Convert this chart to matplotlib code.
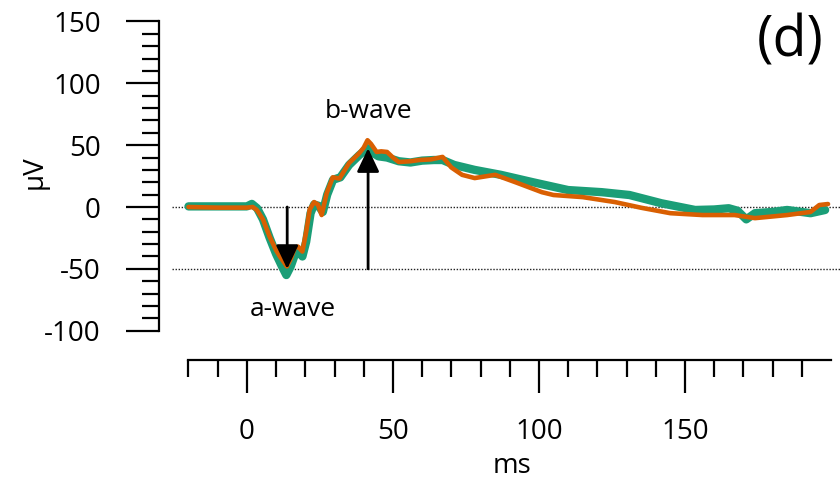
import numpy as np
import matplotlib
matplotlib.use('Agg')
import matplotlib.pyplot as plt
from matplotlib.ticker import FixedLocator

plt.rcParams['font.family'] = ['Open Sans', 'DejaVu Sans']
plt.rcParams['axes.unicode_minus'] = False

# orange trace (ms, uV)
t_orange = [-20, -10, 0, 2, 3.4, 5.5, 7.8, 10, 11.3, 13.7, 15, 16.4, 17.5, 19,
            20.3, 21.5, 23, 24.3, 25.6, 27.3, 29.4, 31.7, 33, 35, 38.5, 40, 41.3,
            42.5, 44.4, 46, 48, 50, 52, 56, 59, 63, 67, 70, 73.7, 78, 85, 92,
            101, 105, 115, 126, 135, 145, 156, 167, 174, 185, 193, 196, 199]
v_orange = [0.0, -0.5, -0.5, 0, -2.4, -10, -24, -35, -40, -48, -42, -33, -32, -36,
            -20, -2, 4, 2, -6.5, 11, 24, 23, 28, 35.6, 43.6, 48, 54,
            51, 44.5, 45, 44.5, 40, 36.4, 37, 38, 38.5, 40.5, 32, 26, 23.4, 26, 20,
            12, 9.7, 8, 4, -0.6, -5, -6.5, -6.5, -9, -6.5, -4, 1.6, 2.4]

# green trace (ms, uV)
t_green = [-20, -10, 0, 1.7, 3.5, 5.5, 7.8, 10, 12, 13.5, 15, 16.5, 18, 19,
           20.3, 21.8, 23, 24.5, 26, 27.5, 29.5, 32, 35, 38.5, 41.3, 43, 45,
           48, 52, 56, 60, 64, 67, 71, 78, 87, 98, 110, 121.5, 131, 142, 153.5,
           160, 165, 168, 171, 174, 180, 185, 193, 198]
v_green = [0.5, 0.5, 0.5, 2.5, -1, -10, -25, -38, -48, -55, -48, -38, -37, -40,
           -28, -5, 2, 1, -4, 10, 22, 24, 34, 42, 47.6, 44, 41,
           40, 37, 36, 37.5, 38, 38, 34, 30, 26, 20, 13.7, 12, 9.7, 3, -2.4,
           -2, -1, -3, -10, -5, -4, -2.4, -5, -2.4]

a_wave_t = 13.8
b_wave_t = 41.5
a_wave_amp = -50
b_wave_amp = 47.5

fig = plt.figure(figsize=(8.4, 4.86), dpi=100)
ax = fig.add_axes([159 / 840, 1 - 360 / 486, 1 - 159 / 840, 340 / 486])
ax.set_xlim(-30.1, 203.1)
ax.set_ylim(-123.7, 151.2)

ax.hlines([0, -50], -25.7, 203.1, colors='#222222', linestyles=(0, (1, 1.2)), lw=1.0, zorder=1)

ax.plot(t_green, v_green, color='#1b9e77', lw=6, solid_capstyle='round', zorder=2)
ax.plot(t_orange, v_orange, color='#d95f02', lw=3.3, solid_capstyle='round', zorder=3)

arrow_kw = dict(arrowstyle='-|>,head_length=0.8,head_width=0.38', color='black',
                lw=2, mutation_scale=18, shrinkA=0, shrinkB=0)
ax.annotate('', xy=(a_wave_t, a_wave_amp), xytext=(a_wave_t, 0), arrowprops=arrow_kw, zorder=5)
ax.annotate('', xy=(b_wave_t, b_wave_amp), xytext=(b_wave_t, a_wave_amp), arrowprops=arrow_kw, zorder=5)

ax.text(15.8, -83, 'a-wave', fontsize=19, ha='center', va='center')
ax.text(41.8, 77, 'b-wave', fontsize=19, ha='center', va='center')

for s in ['top', 'right']:
    ax.spines[s].set_visible(False)
for s in ['left', 'bottom']:
    ax.spines[s].set_linewidth(1.6)
ax.spines['left'].set_bounds(-100, 150)
ax.spines['bottom'].set_bounds(-20, 200)

ax.xaxis.set_major_locator(FixedLocator([0, 50, 100, 150]))
ax.xaxis.set_minor_locator(FixedLocator([v for v in range(-20, 200, 10) if v % 50 != 0]))
ax.yaxis.set_major_locator(FixedLocator(range(-100, 151, 50)))
ax.yaxis.set_minor_locator(FixedLocator([v for v in range(-100, 151, 10) if v % 50 != 0]))
ax.tick_params(which='major', direction='out', length=23.8, width=1.6, labelsize=20, pad=18)
ax.tick_params(which='minor', direction='out', length=12.5, width=1.6)
ax.tick_params(axis='y', which='minor', length=12)

fig.text(512 / 840, 1 - 466 / 486, 'ms', fontsize=20, ha='center', va='center')
fig.text(35 / 840, 1 - 172 / 486, 'μV', fontsize=20, ha='center', va='center', rotation=90)
fig.text(790 / 840, 1 - 42 / 486, '(d)', fontsize=40, ha='center', va='center')

fig.savefig('out.png', dpi=100)
